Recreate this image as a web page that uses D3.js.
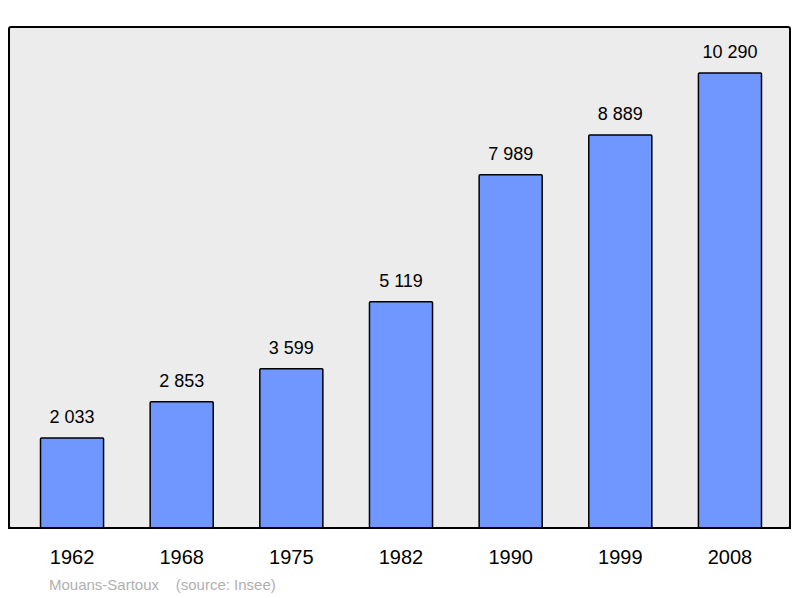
<!DOCTYPE html>
<html lang="fr">
<head>
<meta charset="utf-8">
<script src="https://cdn.jsdelivr.net/npm/d3@7"></script>
<style>
body { margin: 0; background: #fff; }
text { font-family: "Liberation Sans", Arial, sans-serif; }
</style>
</head>
<body>
<svg id="chart" width="800" height="598"></svg>
<script>
// population data
var years = ['1962', '1968', '1975', '1982', '1990', '1999', '2008'];
var population = [2033, 2853, 3599, 5119, 7989, 8889, 10290];
var valueLabels = ['2 033', '2 853', '3 599', '5 119', '7 989', '8 889', '10 290'];

var svg = d3.select('#chart');

svg.append('rect')
    .attr('x', 9).attr('y', 27)
    .attr('width', 781).attr('height', 501)
    .attr('rx', 2)
    .attr('fill', '#ececec')
    .attr('stroke', '#000')
    .attr('stroke-width', 2);

var x = d3.scaleBand()
    .domain(years)
    .range([12, 790])
    .paddingInner(0.425)
    .paddingOuter(0.26);

var y = d3.scaleLinear()
    .domain([0, 10290])
    .range([528, 73]);

var data = years.map(function(d, i) {
    return {year: d, value: population[i], label: valueLabels[i]};
});

svg.selectAll('rect.bar')
    .data(data)
  .enter().append('rect')
    .attr('class', 'bar')
    .attr('x', function(d) { return x(d.year); })
    .attr('y', function(d) { return y(d.value); })
    .attr('width', x.bandwidth())
    .attr('height', function(d) { return 528 - y(d.value); })
    .attr('rx', 1)
    .attr('fill', '#7097ff')
    .attr('stroke', '#000')
    .attr('stroke-width', 1.5);

svg.selectAll('text.val')
    .data(data)
  .enter().append('text')
    .attr('class', 'val')
    .attr('x', function(d) { return x(d.year) + x.bandwidth() / 2; })
    .attr('y', function(d) { return y(d.value) - 15; })
    .attr('text-anchor', 'middle')
    .attr('font-size', 18)
    .text(function(d) { return d.label; });

// x axis labels
svg.selectAll('text.year')
    .data(years)
  .enter().append('text')
    .attr('class', 'year')
    .attr('x', function(d) { return x(d) + x.bandwidth() / 2; })
    .attr('y', 564)
    .attr('text-anchor', 'middle')
    .attr('font-size', 20)
    .text(function(d) { return d; });

svg.append('rect')
    .attr('x', 8).attr('y', 527).attr('width', 783).attr('height', 2)
    .attr('fill', '#000');

svg.append('text')
    .attr('x', 49).attr('y', 590)
    .attr('font-size', 15)
    .attr('fill', '#b0b0b0')
    .attr('xml:space', 'preserve')
    .style('white-space', 'pre')
    .text('Mouans-Sartoux    (source: Insee)');
</script>
</body>
</html>
